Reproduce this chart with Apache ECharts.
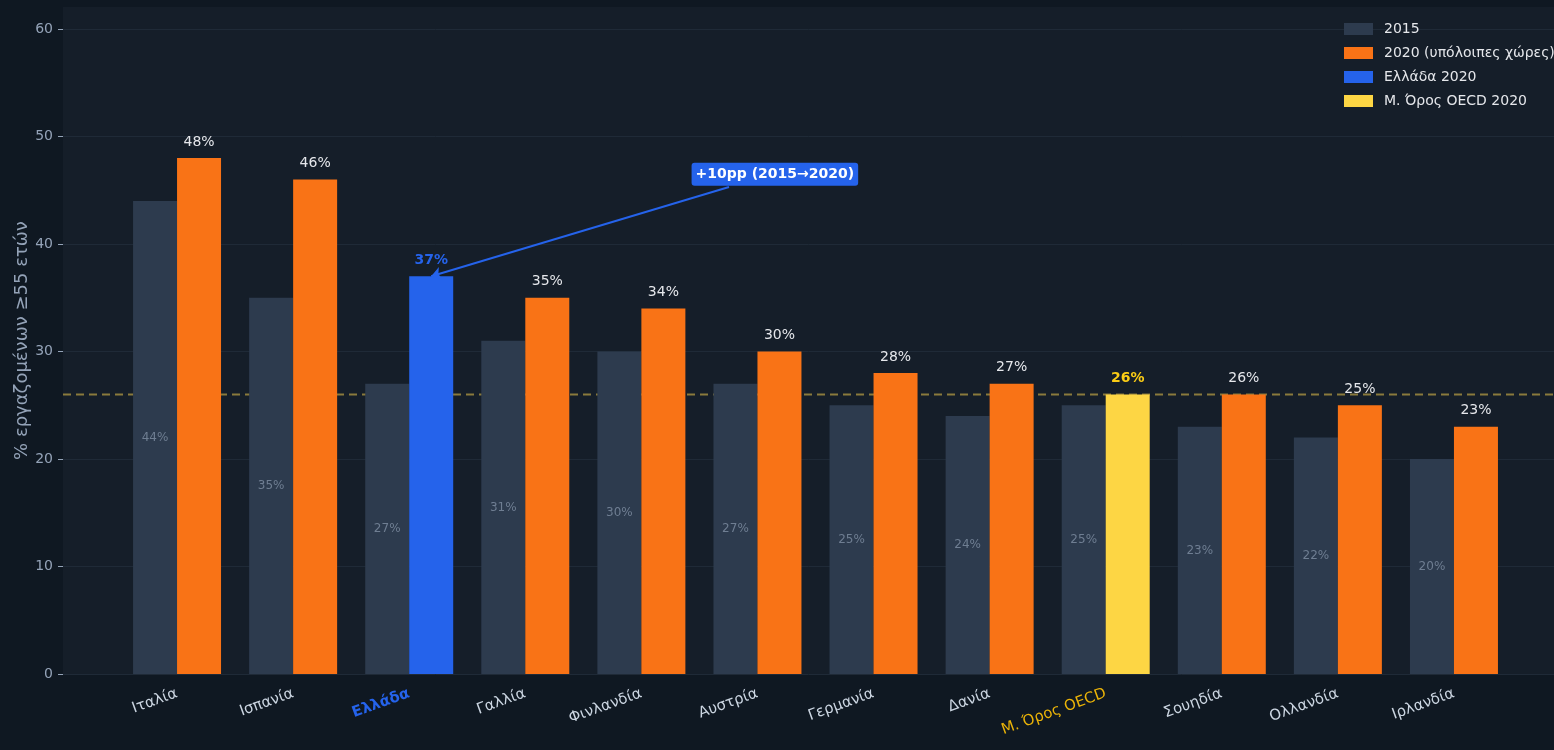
<!DOCTYPE html>
<html>
<head>
<meta charset="UTF-8">
<script src="https://cdn.jsdelivr.net/npm/echarts@6/dist/echarts.min.js"></script>
<title>Εργαζόμενοι ≥55 ετών</title>
<style>
html, body {
	margin: 0;
	padding: 0;
	background: #0f1822;
}

#main {
	width: 1554px;
	height: 750px;
}
</style>
</head>
<body>
	<div id="main"></div>
	<script>
		// data
		var countries = [ 'Ιταλία', 'Ισπανία', 'Ελλάδα', 'Γαλλία', 'Φινλανδία', 'Αυστρία',
				'Γερμανία', 'Δανία', 'Μ. Όρος OECD', 'Σουηδία', 'Ολλανδία', 'Ιρλανδία' ];
		var values2015 = [ 44, 35, 27, 31, 30, 27, 25, 24, 25, 23, 22, 20 ];
		var values2020 = [ 48, 46, 37, 35, 34, 30, 28, 27, 26, 26, 25, 23 ];
		var yTicks = [ 0, 10, 20, 30, 40, 50, 60 ];
		var greece = 'Ελλάδα';
		var oecd = 'Μ. Όρος OECD';
		var oecdAvg = 26;
		var noteText = '+10pp (2015→2020)';
		var noteFrom = [ 4.755, 45.3 ];
		var notePos = [ 5.15, 46.5 ];

		var names = [ '2015', '2020 (υπόλοιπες χώρες)', 'Ελλάδα 2020', 'Μ. Όρος OECD 2020' ];

		// layout
		var W = 1554;
		var plotLeft = 63, barLeft = 119, barRight = 42, bgTop = 7, gTop = 29, gBottom = 76;
		var barW = 44;
		var band = (W - barLeft - barRight) / countries.length;
		var xMin = -(barLeft - plotLeft) / band - 0.5;
		var xMax = countries.length - 0.5 + barRight / band;

		var gi = countries.indexOf(greece);
		var oi = countries.indexOf(oecd);

		var rest = values2020.map(function(v, i) {
			return (i === gi || i === oi) ? '-' : v;
		});
		var grOnly = values2020.map(function(v, i) {
			return i === gi ? v : '-';
		});
		var oecdOnly = values2020.map(function(v, i) {
			return i === oi ? v : '-';
		});

		var font = 'DejaVu Sans';
		var labelTop = function(color, bold) {
			return {
				show : true,
				position : 'top',
				distance : 9,
				formatter : '{c}%',
				color : color,
				fontSize : 14,
				fontWeight : bold ? 'bold' : 'normal',
				fontFamily : font
			};
		};

		var option = {
			backgroundColor : '#0f1822',
			textStyle : {
				fontFamily : font
			},
			animation : false,
			legend : {
				data : names,
				orient : 'vertical',
				left : 1339,
				top : 17,
				icon : 'rect',
				itemWidth : 29,
				itemHeight : 12,
				itemGap : 10,
				textStyle : {
					color : '#e5e7eb',
					fontSize : 14,
					padding : [ 0, 0, 0, 6 ]
				}
			},
			grid : [ {
				// plot background
				left : plotLeft,
				right : 0,
				top : bgTop,
				bottom : gBottom,
				show : true,
				backgroundColor : '#151e29',
				borderWidth : 0
			}, {
				// bars
				left : barLeft,
				right : barRight,
				top : gTop,
				bottom : gBottom
			}, {
				// y axis, reference line, note
				left : plotLeft,
				right : 0,
				top : gTop,
				bottom : gBottom
			} ],
			xAxis : [ {
				gridIndex : 0,
				type : 'value',
				show : false
			}, {
				gridIndex : 1,
				type : 'category',
				data : countries,
				axisLine : {
					show : false
				},
				axisTick : {
					show : false
				},
				axisLabel : {
					rotate : 20,
					margin : 19,
					interval : 0,
					formatter : function(v) {
						if (v === greece) return '{g|' + v + '}';
						if (v === oecd) return '{o|' + v + '}';
						return '{n|' + v + '}';
					},
					rich : {
						n : {
							color : '#cbd5e1',
							fontSize : 15,
							fontFamily : font
						},
						g : {
							color : '#2563eb',
							fontSize : 15,
							fontWeight : 'bold',
							fontFamily : font
						},
						o : {
							color : '#eab308',
							fontSize : 15,
							fontFamily : font
						}
					}
				}
			}, {
				gridIndex : 2,
				type : 'value',
				min : xMin,
				max : xMax,
				show : false
			} ],
			yAxis : [ {
				// carries only the axis title, centred on the full plot
				gridIndex : 0,
				type : 'value',
				name : '% εργαζομένων ≥55 ετών',
				nameLocation : 'middle',
				nameGap : 32,
				nameTextStyle : {
					color : '#94a3b8',
					fontSize : 18
				},
				axisLine : {
					show : false,
					onZero : false
				},
				axisTick : {
					show : false
				},
				axisLabel : {
					show : false
				},
				splitLine : {
					show : false
				}
			}, {
				gridIndex : 1,
				type : 'value',
				min : 0,
				max : 60,
				show : false
			}, {
				gridIndex : 2,
				type : 'value',
				min : 0,
				max : 60,
				interval : 10,
				axisLine : {
					show : false,
					onZero : false
				},
				axisTick : {
					show : true,
					length : 5,
					lineStyle : {
						color : '#94a3b8'
					}
				},
				axisLabel : {
					color : '#94a3b8',
					fontSize : 14,
					margin : 10,
					formatter : function(v) {
						return yTicks.indexOf(v) >= 0 ? v : '';
					}
				},
				splitLine : {
					show : true,
					lineStyle : {
						color : '#1f2a37',
						width : 1
					}
				}
			} ],
			series : [ {
				// OECD reference line, plus the annotation
				type : 'line',
				xAxisIndex : 2,
				yAxisIndex : 2,
				data : [ [ xMin, oecdAvg ], [ xMax, oecdAvg ] ],
				symbol : 'none',
				silent : true,
				z : 1,
				lineStyle : {
					color : '#8a7a3c',
					width : 2,
					type : [ 8, 5 ]
				},
				markLine : {
					silent : true,
					symbol : [ 'none', 'arrow' ],
					symbolSize : 10,
					label : {
						show : false
					},
					lineStyle : {
						color : '#2563eb',
						width : 2,
						type : 'solid'
					},
					data : [ [ {
						coord : noteFrom
					}, {
						coord : [ gi + barW / 2 / band, values2020[gi] ]
					} ] ]
				},
				markPoint : {
					silent : true,
					symbol : 'rect',
					symbolSize : 2,
					itemStyle : {
						color : 'rgba(0,0,0,0)'
					},
					label : {
						show : true,
						position : 'inside',
						formatter : noteText,
						color : '#ffffff',
						fontSize : 14,
						fontWeight : 'bold',
						backgroundColor : '#2563eb',
						borderRadius : 3,
						padding : [ 5, 4, 4, 4 ]
					},
					data : [ {
						coord : notePos
					} ]
				}
			}, {
				name : names[0],
				type : 'bar',
				xAxisIndex : 1,
				yAxisIndex : 1,
				data : values2015,
				barWidth : barW,
				barGap : '0%',
				z : 2,
				itemStyle : {
					color : '#2d3b4e'
				},
				label : {
					show : true,
					position : 'inside',
					formatter : '{c}%',
					color : '#6f7e92',
					fontSize : 12
				}
			}, {
				name : names[1],
				type : 'bar',
				stack : 'y2020',
				xAxisIndex : 1,
				yAxisIndex : 1,
				data : rest,
				barWidth : barW,
				z : 2,
				itemStyle : {
					color : '#f97316'
				},
				label : labelTop('#e5e7eb', false)
			}, {
				name : names[2],
				type : 'bar',
				stack : 'y2020',
				xAxisIndex : 1,
				yAxisIndex : 1,
				data : grOnly,
				barWidth : barW,
				z : 2,
				itemStyle : {
					color : '#2563eb'
				},
				label : labelTop('#2563eb', true)
			}, {
				name : names[3],
				type : 'bar',
				stack : 'y2020',
				xAxisIndex : 1,
				yAxisIndex : 1,
				data : oecdOnly,
				barWidth : barW,
				z : 2,
				itemStyle : {
					color : '#fdd644'
				},
				label : labelTop('#facc15', true)
			} ]
		};

		var mychart = echarts.init(document.getElementById('main'));
		mychart.setOption(option);
	</script>
</body>
</html>
